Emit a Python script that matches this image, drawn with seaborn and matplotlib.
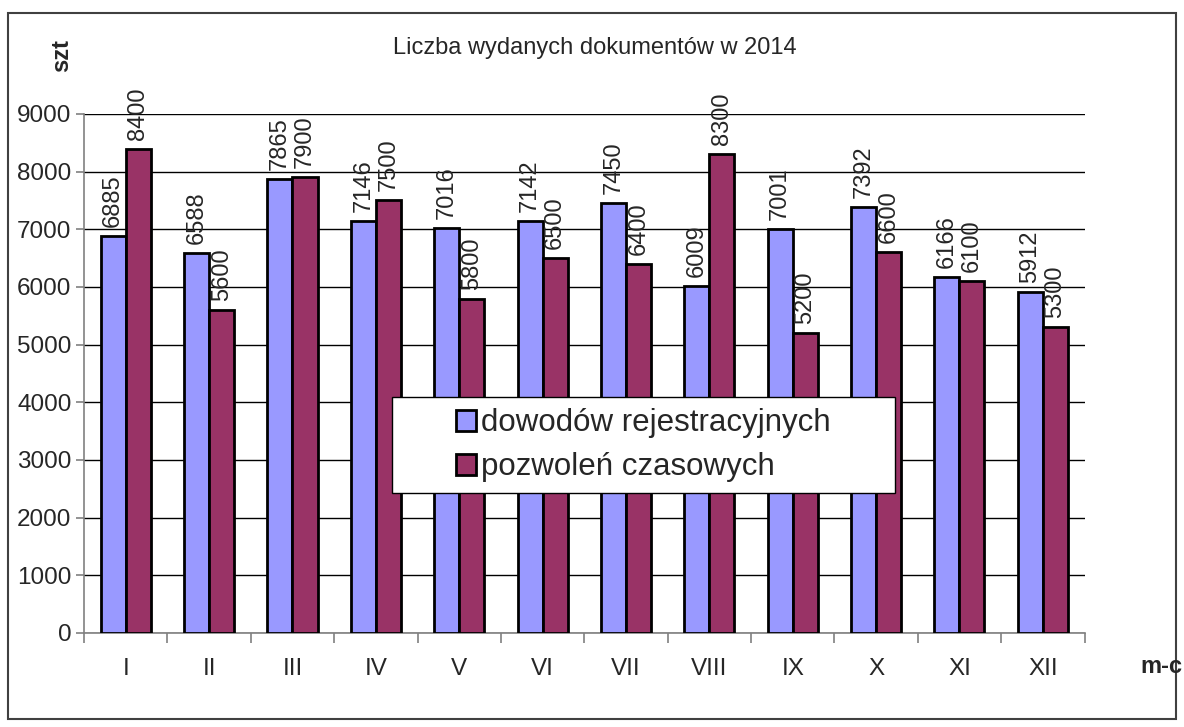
import pandas as pd
import numpy as np
import seaborn as sns
import matplotlib.pyplot as plt
from matplotlib.patches import Rectangle

months = ['I', 'II', 'III', 'IV', 'V', 'VI', 'VII', 'VIII', 'IX', 'X', 'XI', 'XII']
dowody = [6885, 6588, 7865, 7146, 7016, 7142, 7450, 6009, 7001, 7392, 6166, 5912]
pozwolenia = [8400, 5600, 7900, 7500, 5800, 6500, 6400, 8300, 5200, 6600, 6100, 5300]
series = ['dowodów rejestracyjnych', 'pozwoleń czasowych']
colors = ['#9999FF', '#993366']

df = pd.DataFrame({
    'miesiac': months * 2,
    'wartosc': dowody + pozwolenia,
    'seria': [series[0]] * len(months) + [series[1]] * len(months),
})

sns.set_style('white')
plt.rcParams['font.family'] = ['Liberation Sans', 'DejaVu Sans']

fig = plt.figure(figsize=(11.84, 7.27), dpi=100)
ax = fig.add_axes([0.071, 0.1293, 0.845, 0.7139])

sns.barplot(data=df, x='miesiac', y='wartosc', hue='seria', order=months,
            hue_order=series, palette=colors, width=0.6, gap=0,
            edgecolor='black', linewidth=2, saturation=1, ax=ax, zorder=3)

for cont in ax.containers:
    ax.bar_label(cont, fmt='%d', rotation=90, padding=6.5, fontsize=17, clip_on=False)

ax.set_ylim(0, 9000)
ax.set_xlim(-0.5, 11.5)
ax.set_yticks(range(0, 9001, 1000))
ax.yaxis.grid(True, color='black', linewidth=1)
ax.set_axisbelow(True)
ax.set_xlabel('')
ax.set_ylabel('')

# ticks between categories, labels centred
ax.set_xticks(np.arange(-0.5, 12, 1))
ax.set_xticklabels([])
ax.set_xticks(range(12), minor=True)
ax.set_xticklabels(months, minor=True, fontsize=17.5)
ax.tick_params(axis='x', which='major', direction='out', length=7, color='#808080', width=1.2, bottom=True)
ax.tick_params(axis='x', which='minor', length=0, pad=18)
ax.tick_params(axis='y', direction='out', length=6, color='#808080', width=1.2, left=True, labelsize=17.5, pad=3)

for s in ['top', 'right']:
    ax.spines[s].set_visible(False)
for s in ['left', 'bottom']:
    ax.spines[s].set_color('#808080')
    ax.spines[s].set_linewidth(1.2)

# legend box is wider than its content, so draw the frame separately
box = Rectangle((0.3077, 0.2697), 0.5025, 0.185, transform=ax.transAxes,
                facecolor='white', edgecolor='black', linewidth=1, zorder=5, clip_on=False)
ax.add_patch(box)
leg = ax.legend(loc='center', bbox_to_anchor=(0.559, 0.362), fontsize=22.5,
                frameon=False, handlelength=0.65, handleheight=0.65,
                handletextpad=0.15, borderpad=0, labelspacing=0.45, borderaxespad=0)
leg.set_zorder(6)

fig.text(0.502, 0.934, 'Liczba wydanych dokumentów w 2014', ha='center', va='center', fontsize=17)
fig.text(0.052, 0.924, 'szt', rotation=90, ha='center', va='center', fontsize=17, fontweight='bold')
fig.text(0.981, 0.083, 'm-c', ha='center', va='center', fontsize=17, fontweight='bold')

fig.patches.append(Rectangle((0.007, 0.011), 0.986, 0.971, transform=fig.transFigure,
                             fill=False, edgecolor='#404040', linewidth=1.5))

fig.savefig('out.png', dpi=100)
